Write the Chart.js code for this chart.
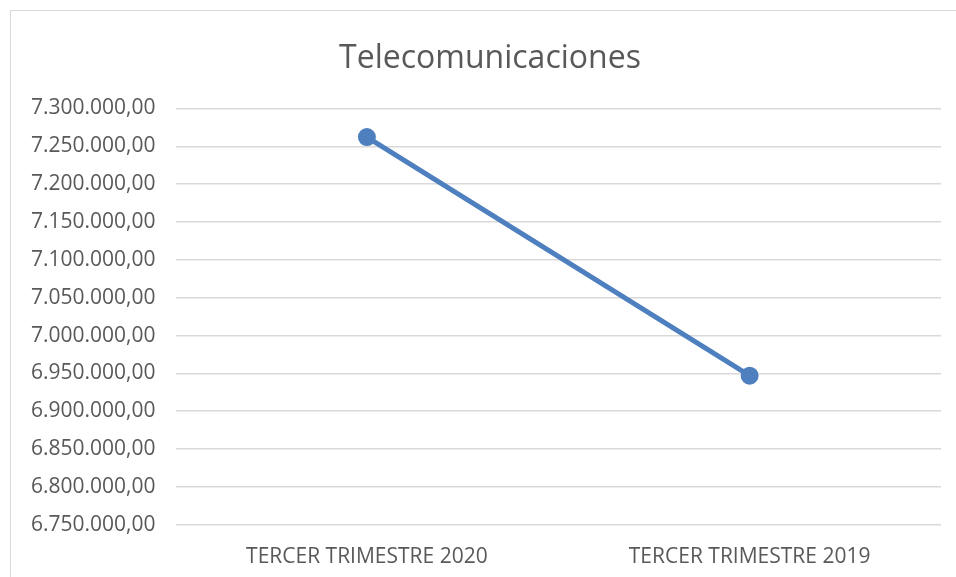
<!DOCTYPE html>
<html>
<head>
<meta charset="utf-8">
<script src="https://cdn.jsdelivr.net/npm/chart.js@4/dist/chart.umd.min.js"></script>
<style>
  html, body { margin: 0; padding: 0; background: #fff; overflow: hidden; }
  #box {
    position: absolute; left: 10px; top: 10px;
    width: 960px; height: 580px;
    border-left: 1px solid #d9d9d9; border-top: 1px solid #d9d9d9;
  }
</style>
</head>
<body>
<div id="box"><canvas id="myChart"></canvas></div>
<script>
const categories = ['TERCER TRIMESTRE 2020', 'TERCER TRIMESTRE 2019'];
const values = [7262200, 6947000];
const yMin = 6750000;
const yMax = 7300000;
const yStep = 50000;

// formato 7.300.000,00
function fmt(v) {
    const s = Math.round(v).toString().replace(/\B(?=(\d{3})+(?!\d))/g, '.');
    return s + ',00';
}

// centra el título sobre el marco completo, no sobre el área con padding
const titleShift = {
    id: 'titleShift',
    afterLayout(chart) {
        if (chart.titleBlock) chart.titleBlock.left += 28;
    }
};

const context = document.getElementById('myChart').getContext('2d');
const myChart = new Chart(context, {
    type: 'line',
    data: {
        labels: categories,
        datasets: [{
            label: 'Telecomunicaciones',
            data: values,
            borderColor: '#4e7fbe',
            backgroundColor: '#4e7fbe',
            borderWidth: 5,
            pointRadius: 6.5,
            pointHoverRadius: 6.5,
            fill: false
        }]
    },
    plugins: [titleShift],
    options: {
        responsive: true,
        maintainAspectRatio: false,
        animation: false,
        layout: { padding: { left: 0, right: 30, top: 0, bottom: 1 } },
        plugins: {
            legend: { display: false },
            tooltip: { enabled: false },
            title: {
                display: true,
                text: 'Telecomunicaciones',
                color: '#595959',
                font: { family: 'Open Sans', size: 32, weight: 'normal' },
                padding: { top: 29, bottom: 30 }
            }
        },
        scales: {
            x: {
                offset: true,
                grid: { display: false, drawTicks: false },
                border: { display: false },
                ticks: {
                    color: '#595959',
                    font: { family: 'Open Sans', size: 21 },
                    padding: 20,
                    maxRotation: 0
                }
            },
            y: {
                min: yMin,
                max: yMax,
                grid: { color: '#d9d9d9', lineWidth: 1.5, drawTicks: false },
                border: { display: false },
                ticks: {
                    stepSize: yStep,
                    color: '#595959',
                    font: { family: 'Open Sans', size: 21 },
                    padding: 20,
                    callback: (v) => fmt(v)
                }
            }
        }
    }
});
</script>
</body>
</html>
